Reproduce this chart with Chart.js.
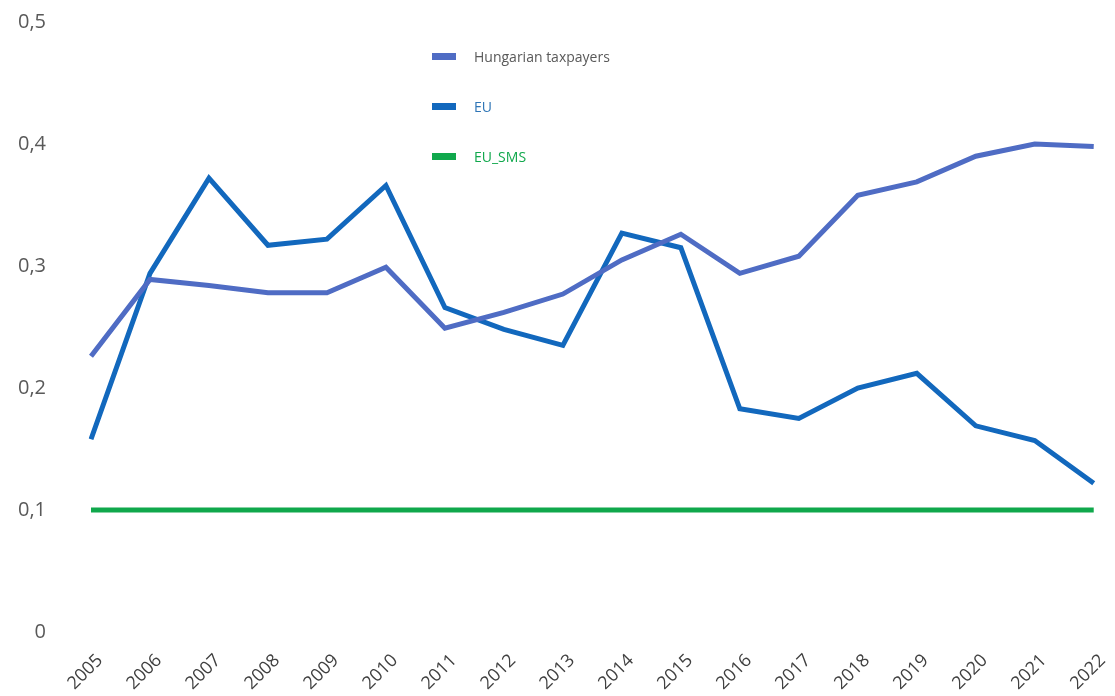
<!DOCTYPE html>
<html>
<head>
<meta charset="utf-8">
<script src="https://cdn.jsdelivr.net/npm/chart.js@4.4.0/dist/chart.umd.min.js"></script>
<style>
  html, body { margin: 0; padding: 0; background: #fff; overflow: hidden; }
  #wrap { position: relative; width: 1115px; height: 696px; overflow: hidden; }
  #c { position: absolute; left: 0; top: -35px; }
  #legend { position: absolute; left: 432px; top: 31px; font-family: "Open Sans", "Liberation Sans", sans-serif; font-size: 14px; }
  .item { display: flex; align-items: center; height: 50px; }
  .sw { width: 24px; height: 7px; margin-right: 18px; }
</style>
</head>
<body>
<div id="wrap">
  <canvas id="c" width="1127" height="731"></canvas>
  <div id="legend"></div>
</div>
<script>
const years = ['2005','2006','2007','2008','2009','2010','2011','2012','2013','2014','2015','2016','2017','2018','2019','2020','2021','2022'];
const hungarianTaxpayers = [0.226,0.289,0.284,0.278,0.278,0.299,0.249,0.262,0.277,0.305,0.326,0.294,0.308,0.358,0.369,0.390,0.400,0.398];
const eu = [0.158,0.294,0.372,0.317,0.322,0.366,0.266,0.248,0.235,0.327,0.315,0.183,0.175,0.200,0.212,0.169,0.157,0.122];
const euSms = [0.1,0.1,0.1,0.1,0.1,0.1,0.1,0.1,0.1,0.1,0.1,0.1,0.1,0.1,0.1,0.1,0.1,0.1];
const seriesNames = ['Hungarian taxpayers','EU','EU_SMS'];
const yTicks = [0,0.1,0.2,0.3,0.4,0.5];

const colors = ['#4f6cc4','#1268bd','#10a84c'];
const textColors = ['#595959','#2e75b6','#10a84c'];

const datasets = [hungarianTaxpayers, eu, euSms].map((d, i) => ({
  label: seriesNames[i],
  data: d,
  borderColor: colors[i],
  backgroundColor: colors[i],
  borderWidth: 5,
  pointRadius: 0,
  tension: 0,
  fill: false,
  borderCapStyle: 'butt',
  borderJoinStyle: 'miter'
}));

const lg = document.getElementById('legend');
seriesNames.forEach((n, i) => {
  const it = document.createElement('div');
  it.className = 'item';
  const sw = document.createElement('div');
  sw.className = 'sw';
  sw.style.background = colors[i];
  const t = document.createElement('span');
  t.textContent = n;
  t.style.color = textColors[i];
  it.appendChild(sw); it.appendChild(t);
  lg.appendChild(it);
});

const fontFam = '"Open Sans", "Liberation Sans", sans-serif';
new Chart(document.getElementById('c'), {
  type: 'line',
  data: { labels: years, datasets },
  options: {
    responsive: false,
    animation: false,
    layout: { padding: { top: 0, right: 18, left: 0, bottom: 0 } },
    plugins: { legend: { display: false }, tooltip: { enabled: false } },
    scales: {
      x: {
        offset: false,
        grid: { display: false, drawTicks: false },
        border: { display: false },
        ticks: { color: '#404040', font: { family: fontFam, size: 18 }, minRotation: 45, maxRotation: 45, padding: 18, labelOffset: 9, autoSkip: false },
        afterFit: s => { s.height = 64; }
      },
      y: {
        min: 0, max: 0.5,
        grid: { display: false, drawTicks: false },
        border: { display: false },
        afterBuildTicks: s => { s.ticks = yTicks.map(v => ({ value: v })); },
        ticks: {
          color: '#595959', font: { family: fontFam, size: 20 }, padding: 45,
          callback: v => v === 0 ? '0' : v.toFixed(1).replace('.', ',')
        },
        afterFit: s => { s.width = 91; }
      }
    }
  }
});
</script>
</body>
</html>
